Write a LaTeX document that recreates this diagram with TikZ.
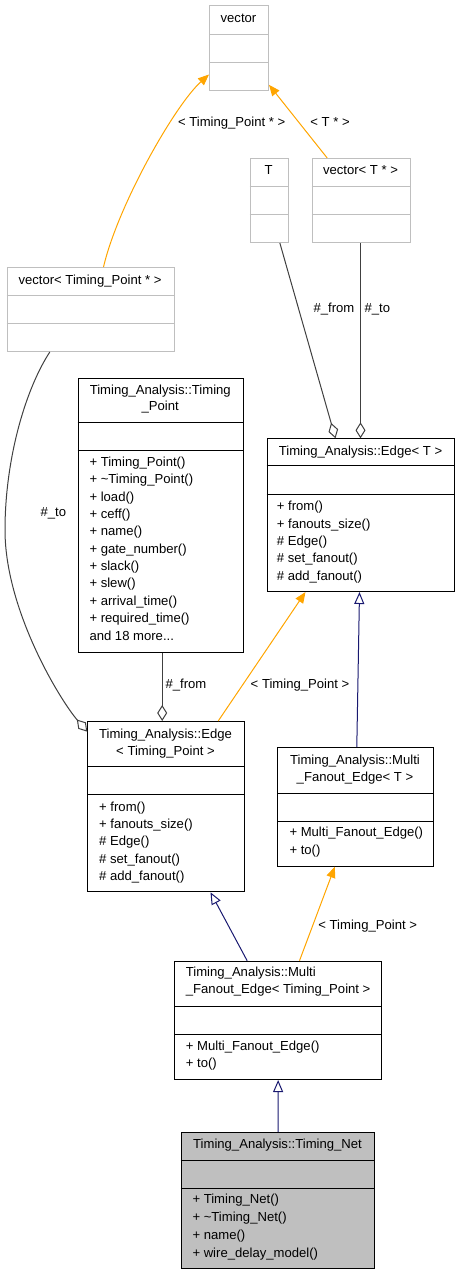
\documentclass[tikz,border=0pt]{standalone}
\usepackage{fontspec}
\setmainfont{Liberation Sans}
\usetikzlibrary{arrows.meta}
\definecolor{grey75}{HTML}{BFBFBF}
\definecolor{grey25}{HTML}{404040}
\definecolor{edgeorange}{HTML}{FFA500}
\definecolor{midblue}{HTML}{191970}
\definecolor{netfill}{HTML}{BFBFBF}
\tikzset{
  cls/.style={draw=black, line width=1pt, fill=white, inner sep=0pt, anchor=north west},
  extcls/.style={cls, draw=grey75},
  netcls/.style={cls, fill=netfill},
  divb/.style={draw=black, line width=1pt},
  divg/.style={draw=grey75, line width=1pt},
  txt/.style={inner sep=0pt, text height=9.4pt, text depth=2.8pt},
  mem/.style={txt, anchor=west},
  lbl/.style={txt},
  inh/.style={draw=midblue, line width=1pt, -{Triangle[open, length=12pt, width=10pt, fill=white]}},
  tmpl/.style={draw=edgeorange, line width=1pt, -{Triangle[length=11pt, width=9pt]}},
  comp/.style={draw=grey25, line width=1pt, {Diamond[open, length=16pt, width=10pt, fill=white]}-},
}
\begin{document}
\begin{tikzpicture}[x=1pt, y=-1pt, font=\fontsize{13.1pt}{17.3pt}\selectfont]
\useasboundingbox (0,0) rectangle (459,1275);

% vector
\node[extcls, minimum width=59pt, minimum height=85pt] (vec) at (209,5) {};
\draw[divg] (209,34) -- (268,34);
\draw[divg] (209,62) -- (268,62);
\node[txt] (vect) at (238.5,19) {vector};

% T
\node[extcls, minimum width=38.5pt, minimum height=84pt] (T) at (249.5,158) {};
\draw[divg] (249.5,186) -- (288,186);
\draw[divg] (249.5,214) -- (288,214);
\node[txt] (Tt) at (268.5,171) {T};

% vector< T * >
\node[extcls, minimum width=98pt, minimum height=84pt] (vtt) at (311.5,158) {};
\draw[divg] (311.5,186) -- (409.5,186);
\draw[divg] (311.5,214) -- (409.5,214);
\node[txt] (vttt) at (360.5,171) {vector< T * >};

% vector< Timing_Point * >
\node[extcls, minimum width=167pt, minimum height=84pt] (vtp) at (6.5,267) {};
\draw[divg] (6.5,295.3) -- (173.5,295.3);
\draw[divg] (6.5,323.3) -- (173.5,323.3);
\node[txt] (vtpt) at (90,281) {vector< Timing\_Point * >};

% Timing_Point
\node[cls, minimum width=165.5pt, minimum height=274pt] (tp) at (77.5,377.5) {};
\draw[divb] (77.5,422.3) -- (243,422.3);
\draw[divb] (77.5,450) -- (243,450);
\node[txt] (tpt1) at (160.25,390.7) {Timing\_Analysis::Timing};
\node[txt] (tpt2) at (160.25,407.3) {\_Point};
\foreach \m [count=\i from 0] in {{+ Timing\_Point()}, {+ \textasciitilde Timing\_Point()}, {+ load()}, {+ ceff()}, {+ name()}, {+ gate\_number()}, {+ slack()}, {+ slew()}, {+ arrival\_time()}, {+ required\_time()}, {and 18 more{.}{.}{.}}}
  \node[mem] (tpm\i) at (89.3,{463.3+17.34*\i}) {\m};

% Edge< T >
\node[cls, minimum width=187.6pt, minimum height=152.7pt] (et) at (266.7,438.3) {};
\draw[divb] (266.7,465.7) -- (454.3,465.7);
\draw[divb] (266.7,494) -- (454.3,494);
\node[txt] (ett) at (360.5,451.7) {Timing\_Analysis::Edge< T >};
\foreach \m [count=\i from 0] in {{+ from()}, {+ fanouts\_size()}, {\# Edge()}, {\# set\_fanout()}, {\# add\_fanout()}}
  \node[mem] (etm\i) at (276.7,{507.5+17.3*\i}) {\m};

% Edge< Timing_Point >
\node[cls, minimum width=156.4pt, minimum height=170.3pt] (etp) at (87.3,721) {};
\draw[divb] (87.3,766.7) -- (243.7,766.7);
\draw[divb] (87.3,794.7) -- (243.7,794.7);
\node[txt] (etpt1) at (165.5,735) {Timing\_Analysis::Edge};
\node[txt] (etpt2) at (165.5,751.7) {< Timing\_Point >};
\foreach \m [count=\i from 0] in {{+ from()}, {+ fanouts\_size()}, {\# Edge()}, {\# set\_fanout()}, {\# add\_fanout()}}
  \node[mem] (etpm\i) at (99,{807.7+17.4*\i}) {\m};

% Multi_Fanout_Edge< T >
\node[cls, minimum width=155.4pt, minimum height=118.7pt] (mt) at (277.3,747) {};
\draw[divb] (277.3,793) -- (432.7,793);
\draw[divb] (277.3,821) -- (432.7,821);
\node[txt] (mtt1) at (355,760.7) {Timing\_Analysis::Multi};
\node[txt] (mtt2) at (355,778) {\_Fanout\_Edge< T >};
\node[mem] (mtm0) at (289.3,833.3) {+ Multi\_Fanout\_Edge()};
\node[mem] (mtm1) at (289.3,851) {+ to()};

% Multi_Fanout_Edge< Timing_Point >
\node[cls, minimum width=206.7pt, minimum height=118.3pt] (mtp) at (174.3,960.7) {};
\draw[divb] (174.3,1006) -- (381,1006);
\draw[divb] (174.3,1034.3) -- (381,1034.3);
\node[mem] (mtpt1) at (185.7,973.3) {Timing\_Analysis::Multi};
\node[mem] (mtpt2) at (185.7,990.3) {\_Fanout\_Edge< Timing\_Point >};
\node[mem] (mtpm0) at (185.7,1046.7) {+ Multi\_Fanout\_Edge()};
\node[mem] (mtpm1) at (185.7,1064.3) {+ to()};

% Timing_Net
\node[netcls, minimum width=193.6pt, minimum height=135.7pt] (tn) at (180.7,1132) {};
\draw[divb] (180.7,1160.3) -- (374.3,1160.3);
\draw[divb] (180.7,1188.3) -- (374.3,1188.3);
\node[txt] (tnt) at (277.5,1145) {Timing\_Analysis::Timing\_Net};
\foreach \m [count=\i from 0] in {{+ Timing\_Net()}, {+ \textasciitilde Timing\_Net()}, {+ name()}, {+ wire\_delay\_model()}}
  \node[mem] (tnm\i) at (192.3,{1200+18*\i}) {\m};

% connectors
\draw[tmpl] ([xshift=13pt]vtp.north) .. controls (118,205) and (175,105) .. ([yshift=-26.5pt]vec.west);
\draw[tmpl] ([xshift=-33.8pt]vtt.north) -- ([yshift=-36.8pt]vec.east);
\draw[comp] ([xshift=-25.5pt]et.north) -- ([xshift=10.6pt]T.south);
\draw[comp] ([xshift=-0.5pt]et.north) -- ([xshift=-0.5pt]vtt.south);
\draw[comp] ([yshift=75pt]etp.west) .. controls (60,700) and (5,610) .. (5,530) .. controls (5,460) and (25,390) .. ([xshift=-40.7pt]vtp.south);
\draw[comp] ([xshift=-3.8pt]etp.north) -- ([xshift=1.45pt]tp.south);
\draw[tmpl] ([xshift=52.2pt]etp.north) -- ([xshift=-55.5pt]et.south);
\draw[inh] ([xshift=1.3pt]mt.north) -- ([xshift=-1.5pt]et.south);
\draw[inh] ([xshift=-31pt]mtp.north) -- ([xshift=44.5pt]etp.south);
\draw[tmpl] ([xshift=21.35pt]mtp.north) -- ([xshift=-20.7pt]mt.south);
\draw[inh] (tn.north) -- (mtp.south);

% labels
\node[lbl] (l1) at (231.7,123) {< Timing\_Point * >};
\node[lbl] (l2) at (330,123) {< T * >};
\node[lbl] (l3) at (334,309) {\#\_from};
\node[lbl] (l4) at (377.3,309) {\#\_to};
\node[lbl] (l5) at (53.3,513.3) {\#\_to};
\node[lbl] (l6) at (186,685) {\#\_from};
\node[lbl] (l7) at (300,685) {< Timing\_Point >};
\node[lbl] (l8) at (367.7,925.7) {< Timing\_Point >};
\end{tikzpicture}
\end{document}
